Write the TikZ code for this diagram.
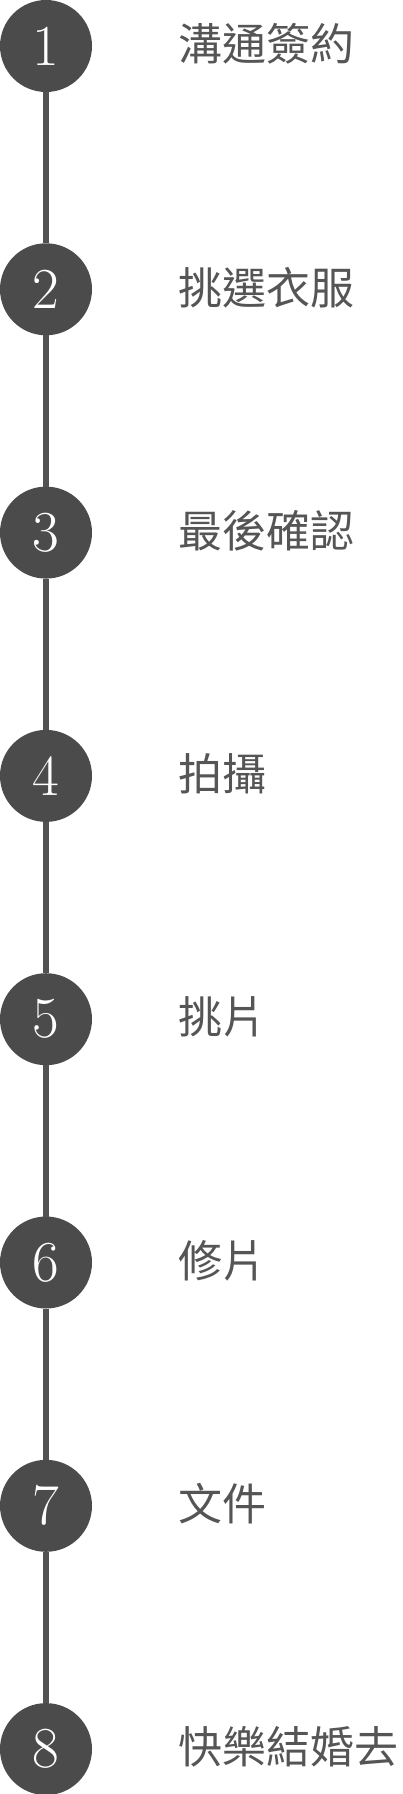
\documentclass[tikz,border=0pt]{standalone}
\usepackage{fontspec}
\newfontfamily\cjk{Noto Sans CJK TC}
\definecolor{stepgray}{RGB}{75,75,75}
\definecolor{linegray}{RGB}{82,82,82}
\definecolor{textgray}{RGB}{85,85,85}
\tikzset{
  stepdot/.style={circle, fill=stepgray, text=white, minimum size=92pt, inner sep=0pt, outer sep=0pt,
    font=\fontsize{58}{60}\selectfont},
  steplabel/.style={anchor=west, inner sep=0pt, text=textgray, font=\cjk\fontsize{44}{48}\selectfont},
  stepline/.style={draw=linegray, line width=6pt}
}
\begin{document}
\begin{tikzpicture}[x=1pt,y=-1pt]
    \useasboundingbox (0,0) rectangle (402,1794);
    \node(s1)[stepdot] at (46,46) {1};
    \node(s2)[stepdot] at (46,289.3) {2};
    \node(s3)[stepdot] at (46,532.6) {3};
    \node(s4)[stepdot] at (46,775.9) {4};
    \node(s5)[stepdot] at (46,1019.2) {5};
    \node(s6)[stepdot] at (46,1262.5) {6};
    \node(s7)[stepdot] at (46,1505.8) {7};
    \node(s8)[stepdot] at (46,1749.1) {8};

    \node(t1)[steplabel] at (178,44) {溝通簽約};
    \node(t2)[steplabel] at (178,287.3) {挑選衣服};
    \node(t3)[steplabel] at (178,530.6) {最後確認};
    \node(t4)[steplabel] at (178,773.9) {拍攝};
    \node(t5)[steplabel] at (178,1017.2) {挑片};
    \node(t6)[steplabel] at (178,1260.5) {修片};
    \node(t7)[steplabel] at (178,1503.8) {文件};
    \node(t8)[steplabel] at (178,1747.1) {快樂結婚去};

    \draw[stepline] (s1) -- (s2);
    \draw[stepline] (s2) -- (s3);
    \draw[stepline] (s3) -- (s4);
    \draw[stepline] (s4) -- (s5);
    \draw[stepline] (s5) -- (s6);
    \draw[stepline] (s6) -- (s7);
    \draw[stepline] (s7) -- (s8);
  \end{tikzpicture}
\end{document}
